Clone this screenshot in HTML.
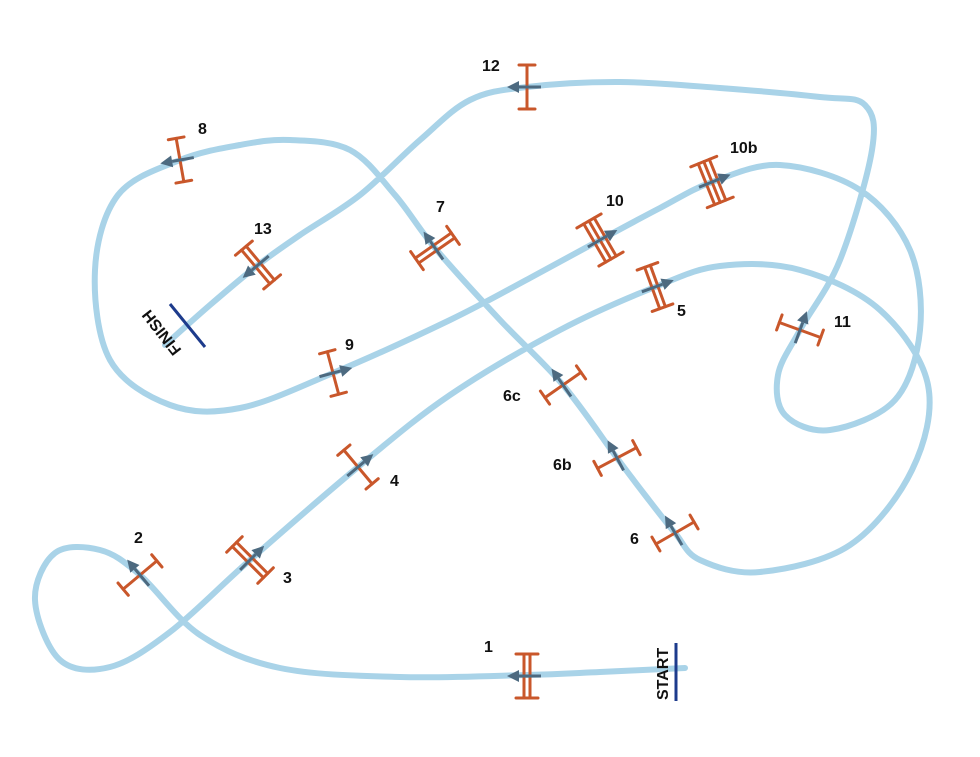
<!DOCTYPE html>
<html><head><meta charset="utf-8"><style>
html,body{margin:0;padding:0;background:#fff;width:980px;height:757px;overflow:hidden}
text{font-family:"Liberation Sans",sans-serif;font-weight:bold;font-size:16px;fill:#111}
</style></head><body>
<svg id="s" width="980" height="757" viewBox="0 0 980 757" xmlns="http://www.w3.org/2000/svg">
<path id="track" fill="none" stroke="#a9d3e8" stroke-width="6" stroke-linecap="round" stroke-linejoin="round"/>
<g id="gates"></g>
<line x1="676" y1="643" x2="676" y2="701" stroke="#1d3b8c" stroke-width="3"/>
<text x="0" y="0" transform="translate(668,700) rotate(-90)" font-size="13">START</text>
<line x1="170" y1="304" x2="205" y2="347" stroke="#1d3b8c" stroke-width="3"/>
<text x="0" y="0" transform="translate(182,350) rotate(232)" font-size="13">FINISH</text>
<text x="484" y="652">1</text>
<text x="134" y="543">2</text>
<text x="283" y="583">3</text>
<text x="390" y="486">4</text>
<text x="677" y="316">5</text>
<text x="630" y="544">6</text>
<text x="553" y="470">6b</text>
<text x="503" y="401">6c</text>
<text x="436" y="212">7</text>
<text x="198" y="134">8</text>
<text x="345" y="350">9</text>
<text x="606" y="206">10</text>
<text x="730" y="153">10b</text>
<text x="834" y="327">11</text>
<text x="482" y="71">12</text>
<text x="254" y="234">13</text>
</svg>
<script>
var P=[[685,668],[600,672],[527,675],[400,677],[280,668],[200,635],[140,575],[100,550],[55,553],[35,600],[60,660],[110,667],[170,632],[250,560],[358,467],[450,395],[560,330],[655,287],[720,266],[800,270],[880,310],[928,385],[912,470],[850,545],[760,572],[700,560],[675,533],[645,495],[617,458],[563,385],[500,320],[435,248],[395,195],[350,150],[290,140],[240,145],[180,160],[118,195],[95,270],[110,360],[170,405],[240,408],[333,373],[450,320],[530,278],[600,240],[660,208],[712,182],[780,165],[860,190],[910,250],[920,330],[895,400],[830,430],[785,415],[778,375],[800,330],[840,260],[872,150],[865,105],[820,97],[720,88],[620,82],[527,87],[470,100],[420,140],[360,195],[300,235],[258,265],[210,305],[165,345]];
var d="M"+P[0];
for(var i=0;i<P.length-1;i++){var p0=P[Math.max(i-1,0)],p1=P[i],p2=P[i+1],p3=P[Math.min(i+2,P.length-1)];
var c1=[p1[0]+(p2[0]-p0[0])/6,p1[1]+(p2[1]-p0[1])/6],c2=[p2[0]-(p3[0]-p1[0])/6,p2[1]-(p3[1]-p1[1])/6];
d+=" C"+c1+" "+c2+" "+p2;}
document.getElementById('track').setAttribute('d',d);
var G=[[527,676,180,2],[140,575,-130,1],[250,560,-45,2],[358,467,-40,1],[655,287,-20,2],[675,533,-120,1],[617,458,-118,1],[563,385,-125,1],[435,248,-125,2],[180,160,170,1],[333,373,-15,1],[600,240,-30,3],[712,182,-22,3],[800,330,-70,1],[527,87,180,1],[258,265,140,2]];
var h="",c="#c9572b";
G.forEach(function(g){var x=g[0],y=g[1],a=g[2],n=g[3],s="";
var gap=6,L=22,cap=8;
for(var k=0;k<n;k++){var o=(k-(n-1)/2)*gap;s+='<line x1="'+o+'" y1="'+(-L)+'" x2="'+o+'" y2="'+L+'"/>';}
var w=(n-1)/2*gap+cap;
s+='<line x1="'+(-w)+'" y1="'+(-L)+'" x2="'+w+'" y2="'+(-L)+'"/><line x1="'+(-w)+'" y1="'+L+'" x2="'+w+'" y2="'+L+'"/>';
h+='<g transform="translate('+x+','+y+') rotate('+a+')"><g stroke="'+c+'" stroke-width="3" stroke-linecap="round">'+s+'</g>'+
'<line x1="-14" y1="0" x2="8" y2="0" stroke="#4d6a80" stroke-width="3"/><polygon points="20,0 8,-6 8,6" fill="#4d6a80"/></g>';});
document.getElementById('gates').innerHTML=h;
</script>
</body></html>
